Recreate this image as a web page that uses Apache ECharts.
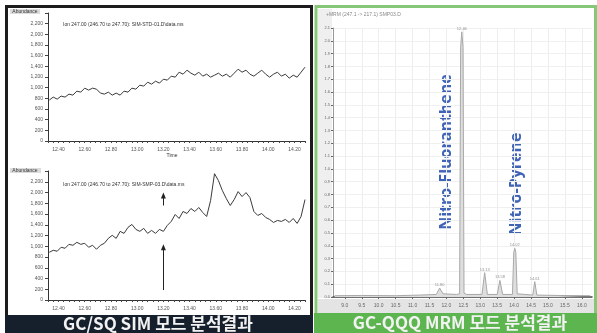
<!DOCTYPE html>
<html><head><meta charset="utf-8">
<script src="https://cdn.jsdelivr.net/npm/echarts@6/dist/echarts.min.js"></script>
<style>html,body{margin:0;padding:0;background:#fff}#c{width:597px;height:333px}</style>
</head><body><div id="c"></div>
<script>
// ---- GC/SQ SIM traces (scan time in min, abundance) ----
const simTimes = [12.33,12.36,12.39,12.42,12.45,12.48,12.51,12.54,12.57,12.60,12.63,12.66,12.69,12.72,12.75,12.78,12.81,12.84,12.87,12.90,12.93,12.96,12.99,13.02,13.05,13.08,13.11,13.14,13.17,13.20,13.23,13.26,13.29,13.32,13.35,13.38,13.41,13.44,13.47,13.50,13.53,13.56,13.59,13.62,13.65,13.68,13.71,13.74,13.77,13.80,13.83,13.86,13.89,13.92,13.95,13.98,14.01,14.04,14.07,14.10,14.13,14.16,14.19,14.22,14.25,14.28];
const simUpper = [767,823,785,842,823,879,860,935,916,991,954,991,972,898,879,916,860,898,860,935,916,991,972,1047,1029,1103,1066,1122,1085,1159,1141,1216,1197,1290,1253,1328,1272,1234,1290,1216,1253,1197,1234,1272,1216,1253,1197,1272,1346,1290,1328,1253,1216,1272,1328,1253,1197,1253,1290,1216,1253,1178,1234,1197,1290,1384];
const simLower = [888,925,907,981,962,1036,1018,1073,1036,1055,981,1018,944,1018,1055,1147,1203,1147,1277,1240,1351,1406,1314,1277,1332,1240,1295,1240,1314,1277,1388,1462,1591,1517,1647,1610,1702,1647,1721,1628,1554,1850,2350,2220,2035,1887,1758,1869,2017,1924,1998,1906,1647,1573,1610,1536,1499,1443,1480,1462,1499,1443,1517,1425,1554,1869];
const simTimeLabels = [12.4,12.6,12.8,13.0,13.2,13.4,13.6,13.8,14.0,14.2];
const simAbundanceLabels = [0,200,400,600,800,1000,1200,1400,1600,1800,2000,2200];
// arrows marking the expected retention time on the lower trace
const simArrowTime = 13.20;
const simArrowLong = [185, 980];
const simArrowShort = [1758, 1943];

// ---- GC-QQQ MRM trace (time in min, counts x10^5) ----
const mrmTimes  = [8.70,9.50,10.50,11.20,11.70,11.80,11.90,12.30,12.39,12.42,12.455,12.49,12.52,12.60,13.05,13.13,13.21,13.50,13.58,13.66,13.95,13.99,14.02,14.05,14.09,14.55,14.61,14.67,15.30,16.25];
const mrmSignal = [0.010,0.012,0.010,0.015,0.020,0.070,0.025,0.020,0.025,1.950,2.070,1.950,0.030,0.020,0.020,0.190,0.020,0.020,0.130,0.020,0.020,0.350,0.380,0.350,0.025,0.015,0.120,0.015,0.012,0.010];
const mrmTimeLabels = [9.0,9.5,10.0,10.5,11.0,11.5,12.0,12.5,13.0,13.5,14.0,14.5,15.0,15.5,16.0];
const mrmCompounds = ['Nitro-Fluoranthene','Nitro-Pyrene'];

const pair = (xs, ys) => xs.map((x, i) => [x, ys[i]]);
const minorTicks = [];
for (let t = 12.32; t <= 14.281; t += 0.04) minorTicks.push(+t.toFixed(2));

// local maxima of the MRM trace, labelled with their retention time
const mrmPeaks = [];
for (let i = 1; i < mrmSignal.length - 1; i++) {
  if (mrmSignal[i] > 0.05 && mrmSignal[i] > mrmSignal[i-1] && mrmSignal[i] > mrmSignal[i+1]) mrmPeaks.push([mrmTimes[i], mrmSignal[i]]);
}

const tiny = { fontSize: 5, color: '#555', fontFamily: 'Liberation Sans' };

function simX(idx) {
  return {
    gridIndex: idx, type: 'value', min: 12.32, max: 14.28,
    axisLine: { show: true, lineStyle: { color: '#333', width: 1 } },
    axisTick: { show: true, customValues: minorTicks, length: 2, lineStyle: { color: '#444' } },
    axisLabel: Object.assign({ customValues: simTimeLabels, margin: 6, formatter: v => v.toFixed(2) }, tiny),
    splitLine: { show: false }
  };
}
function simY(idx) {
  return {
    gridIndex: idx, type: 'value', min: 0, max: 2400,
    axisLine: { show: true, lineStyle: { color: '#333', width: 1 } },
    axisTick: { show: true, customValues: simAbundanceLabels.concat([2400]), length: 3, lineStyle: { color: '#444' } },
    axisLabel: Object.assign({ customValues: simAbundanceLabels, margin: 5 }, tiny),
    splitLine: { show: false }
  };
}

const chart = echarts.init(document.getElementById('c'), null, { renderer: 'canvas' });
chart.setOption({
  animation: false,
  backgroundColor: '#fff',
  grid: [
    { left: 48, top: 13, width: 257, height: 128, outerBoundsMode: 'none' },
    { left: 48, top: 171, width: 257, height: 129, outerBoundsMode: 'none' },
    { left: 333, top: 28, width: 259, height: 269, outerBoundsMode: 'none' }
  ],
  xAxis: [
    simX(0), simX(1),
    {
      gridIndex: 2, type: 'value', min: 8.65, max: 16.3,
      axisLine: { show: true, lineStyle: { color: '#444', width: 1.5 } },
      axisTick: { show: true, customValues: mrmTimeLabels, length: 2, lineStyle: { color: '#666' } },
      axisLabel: Object.assign({ customValues: mrmTimeLabels, margin: 6, formatter: v => v.toFixed(1) }, tiny, { color: '#666' }),
      splitLine: { show: true, lineStyle: { color: '#eeeeee', width: 1 } }
    }
  ],
  yAxis: [
    simY(0), simY(1),
    {
      gridIndex: 2, type: 'value', min: 0, max: 2.1, interval: 0.1,
      axisLine: { show: true, lineStyle: { color: '#999', width: 1 } },
      axisTick: { show: true, length: 2, lineStyle: { color: '#666' } },
      axisLabel: Object.assign({ margin: 3, formatter: v => v.toFixed(1) }, tiny, { fontSize: 4, color: '#666' }),
      splitLine: { show: true, lineStyle: { color: '#f0f0f0', width: 1 } }
    }
  ],
  series: [
    { type: 'line', xAxisIndex: 0, yAxisIndex: 0, data: pair(simTimes, simUpper), symbol: 'none',
      lineStyle: { color: '#3a3a3a', width: 1 } },
    { type: 'line', xAxisIndex: 1, yAxisIndex: 1, data: pair(simTimes, simLower), symbol: 'none',
      lineStyle: { color: '#3a3a3a', width: 1 },
      markLine: { silent: true, symbol: ['none', 'triangle'], symbolSize: [5, 6], label: { show: false },
        lineStyle: { color: '#222', width: 1, type: 'solid' },
        data: [
          [{ coord: [simArrowTime, simArrowLong[0]] }, { coord: [simArrowTime, simArrowLong[1]] }],
          [{ coord: [simArrowTime, simArrowShort[0]] }, { coord: [simArrowTime, simArrowShort[1]] }]
        ] } },
    { type: 'line', xAxisIndex: 2, yAxisIndex: 2, data: pair(mrmTimes, mrmSignal), symbol: 'none',
      lineStyle: { color: '#a8a8a8', width: 1 }, areaStyle: { color: '#dedede', opacity: 1 } },
    { type: 'scatter', xAxisIndex: 2, yAxisIndex: 2, data: mrmPeaks, symbolSize: 0,
      label: { show: true, position: 'top', distance: 1, fontSize: 4, color: '#777', formatter: p => p.value[0].toFixed(2) } }
  ],
  graphic: [
    // left panel frame and caption bar
    { type: 'rect', shape: { x: 6.5, y: 6.5, width: 305, height: 325 }, style: { fill: 'none', stroke: '#1c1c1c', lineWidth: 3 }, z: 10 },
    { type: 'rect', shape: { x: 5, y: 315, width: 308, height: 18 }, style: { fill: '#15202c' }, z: 11 },
    { type: 'text', x: 158, y: 324, style: { text: 'GC/SQ SIM 모드 분석결과', fill: '#f2f2f2', font: 'bold 17px "Noto Sans CJK KR"', align: 'center', verticalAlign: 'middle' }, z: 12 },
    // right panel frame and caption bar
    { type: 'rect', shape: { x: 316, y: 6.5, width: 279.5, height: 325 }, style: { fill: 'none', stroke: '#86c878', lineWidth: 3 }, z: 10 },
    { type: 'rect', shape: { x: 314, y: 313, width: 283, height: 20 }, style: { fill: '#5db54f' }, z: 11 },
    { type: 'text', x: 460, y: 323, style: { text: 'GC-QQQ MRM 모드 분석결과', fill: '#f2f2f2', font: 'bold 17px "Noto Sans CJK KR"', align: 'center', verticalAlign: 'middle' }, z: 12 },
    // axis label backgrounds in the MRM panel
    { type: 'rect', shape: { x: 318, y: 9, width: 14, height: 289 }, style: { fill: '#efefef' }, z: -1 },
    { type: 'rect', shape: { x: 318, y: 299, width: 276, height: 14 }, style: { fill: '#e4e4e4' }, z: -1 },
    // small headers
    { type: 'rect', shape: { x: 10, y: 9, width: 30, height: 5 }, style: { fill: '#dcdcdc' } },
    { type: 'text', x: 25, y: 11.5, style: { text: 'Abundance', fill: '#333', font: '5px "Liberation Sans"', align: 'center', verticalAlign: 'middle' } },
    { type: 'rect', shape: { x: 10, y: 168, width: 31, height: 5 }, style: { fill: '#dcdcdc' } },
    { type: 'text', x: 25, y: 170.5, style: { text: 'Abundance', fill: '#333', font: '5px "Liberation Sans"', align: 'center', verticalAlign: 'middle' } },
    { type: 'text', x: 172, y: 156, style: { text: 'Time', fill: '#333', font: '5px "Liberation Sans"', align: 'center', verticalAlign: 'middle' } },
    { type: 'text', x: 63, y: 25, style: { text: 'Ion 247.00 (246.70 to 247.70): SIM-STD-01.D\\data.ms', fill: '#333', font: '5px "Liberation Sans"', verticalAlign: 'middle' } },
    { type: 'text', x: 63, y: 185, style: { text: 'Ion 247.00 (246.70 to 247.70): SIM-SMP-03.D\\data.ms', fill: '#333', font: '5px "Liberation Sans"', verticalAlign: 'middle' } },
    { type: 'text', x: 326, y: 15, style: { text: '+MRM (247.1 -> 217.1) SMP03.D', fill: '#888', font: '5px "Liberation Sans"', verticalAlign: 'middle' } },
    // compound names
    { type: 'text', x: 446, y: 152, rotation: Math.PI / 2, style: { text: mrmCompounds[0], fill: '#3f63b6', font: 'bold 16px "Open Sans"', align: 'center', verticalAlign: 'middle' } },
    { type: 'text', x: 516, y: 184, rotation: Math.PI / 2, style: { text: mrmCompounds[1], fill: '#3f63b6', font: 'bold 16px "Open Sans"', align: 'center', verticalAlign: 'middle' } }
  ]
});
</script>
</body></html>
